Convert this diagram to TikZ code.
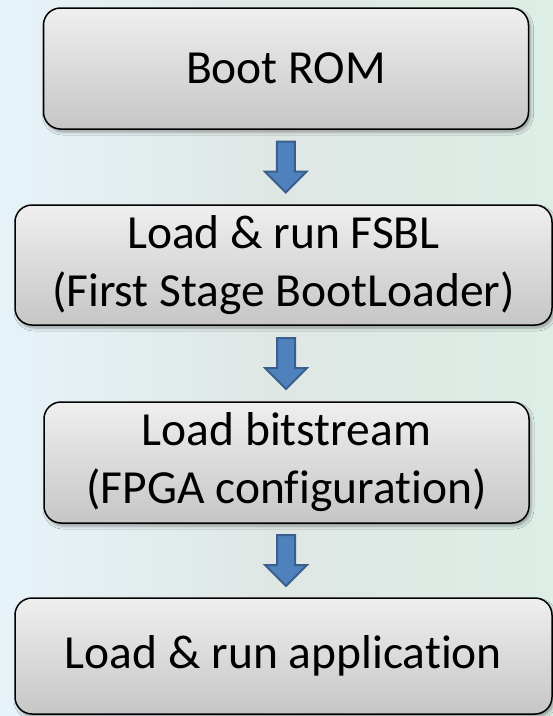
\documentclass[tikz,border=0pt]{standalone}
\usepackage{fontspec}
\setmainfont{Carlito}[RawFeature={-liga;-clig;-dlig}]
\usetikzlibrary{calc,shadows.blur}

\definecolor{bgleft}{HTML}{E6F3F9}
\definecolor{bgmid}{HTML}{DFE7E4}
\definecolor{bgright}{HTML}{DDEEE6}
\definecolor{boxtop}{HTML}{EFEFEF}
\definecolor{boxbot}{HTML}{C6C6C6}
\definecolor{arrowfill}{HTML}{4F81BD}
\definecolor{arrowline}{HTML}{3A5F8C}

\tikzset{
  stage/.style={draw=black, line width=1.5pt, rounded corners=17pt,
    top color=boxtop, bottom color=boxbot, inner sep=0pt,
    align=center, font=\fontsize{47.5pt}{58pt}\selectfont,
    blur shadow={shadow xshift=2pt, shadow yshift=-3pt,
      shadow blur radius=3pt, shadow opacity=35}},
  narrowstage/.style={stage, minimum width=485pt, minimum height=121pt},
  widestage/.style={stage, minimum width=537pt, minimum height=120pt},
  arrowbody/.style={fill=arrowfill, draw=arrowline, line width=2pt, line join=miter},
  downarrow/.pic={
    \draw[arrowbody] (-9,-25.5) -- (9,-25.5) -- (9,4.5) -- (21,4.5)
      -- (0,25.5) -- (-21,4.5) -- (-9,4.5) -- cycle;
  }
}

\begin{document}
\begin{tikzpicture}[x=1pt, y=-1pt]
  % backdrop
  \useasboundingbox (0,0) rectangle (553,716);
  \shade[left color=bgleft, right color=bgright, middle color=bgmid]
    (0,0) rectangle (553,716);

  % stages (the kern keeps f and i as separate glyphs)
  \node[narrowstage] (rom)  at (286,68.5)  {Boot ROM};
  \node[widestage]   (fsbl) at (283.5,265) {Load \& run FSBL\\(First Stage BootLoader)};
  \node[narrowstage] (bit)  at (286.5,462.5) {Load bitstream\\(FPGA conf\kern0pt iguration)};
  \node[widestage]   (app)  at (283.5,656) [minimum height=116pt] {Load \& run application};

  % block arrows between stages
  \pic at ($(rom.south)!0.5!(fsbl.north)+(1,0)$) {downarrow};
  \pic at ($(fsbl.south)!0.5!(bit.north)+(1,0)$) {downarrow};
  \pic at ($(bit.south)!0.5!(app.north)+(1,0)$) {downarrow};
\end{tikzpicture}
\end{document}
